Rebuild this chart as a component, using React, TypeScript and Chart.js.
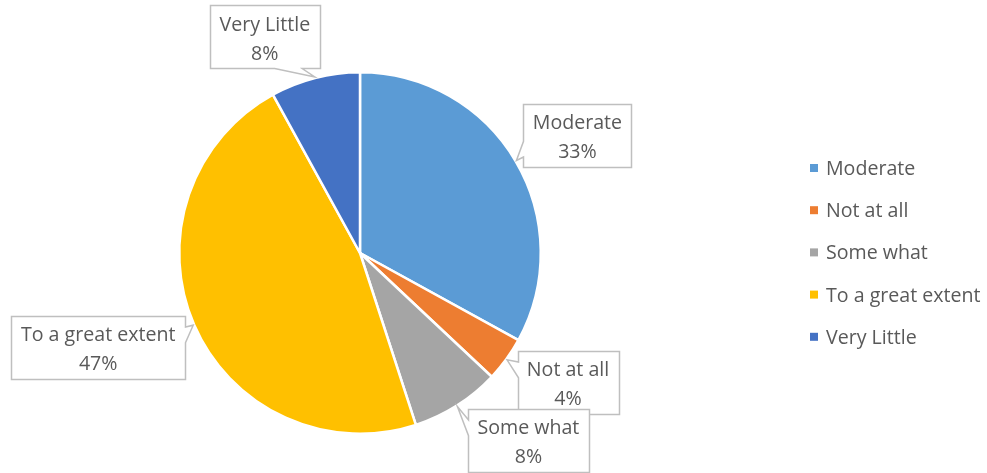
import React, { useEffect, useRef } from "react";
import { Chart, registerables } from "chart.js";

Chart.register(...registerables);

const categories = ["Moderate", "Not at all", "Some what", "To a great extent", "Very Little"];
const values = [33, 4, 8, 47, 8];
const sliceColors = ["#5B9BD5", "#ED7D31", "#A5A5A5", "#FFC000", "#4472C4"];

// callout box centre offsets from the slice's edge tip (layout only)
const calloutOffsets = [
  [61, -25],
  [61, 23],
  [71, 34],
  [-95, 22],
  [-50, -40],
];

const FONT = '19.6px "Open Sans"';
const TEXT_COLOR = "#595959";

const calloutPlugin = {
  id: "callouts",
  afterDraw(chart: any) {
    const ctx = chart.ctx;
    const meta = chart.getDatasetMeta(0);
    const total = values.reduce((a, b) => a + b, 0);
    ctx.save();
    ctx.font = FONT;
    ctx.textAlign = "center";
    ctx.textBaseline = "middle";
    meta.data.forEach((arc: any, i: number) => {
      const mid = (arc.startAngle + arc.endAngle) / 2;
      const r = arc.outerRadius + 1;
      const tx = arc.x + Math.cos(mid) * r;
      const ty = arc.y + Math.sin(mid) * r;
      const line1 = categories[i];
      const line2 = Math.round((values[i] / total) * 100) + "%";
      const tw = Math.max(ctx.measureText(line1).width, ctx.measureText(line2).width);
      const w = Math.round(tw + 19);
      const h = 63;
      const cx = tx + calloutOffsets[i][0];
      const cy = ty + calloutOffsets[i][1];
      const l = Math.round(cx - w / 2) + 0.5;
      const t = Math.round(cy - h / 2) + 0.5;
      const rr = l + w;
      const b = t + h;
      const dx = tx - cx;
      const dy = ty - cy;
      const dq = (dx * h) / w;
      const vertical = Math.abs(dy) > Math.abs(dq);
      const x1 = l + (w * (dx > 0 ? 7 : 2)) / 12;
      const x2 = l + (w * (dx > 0 ? 10 : 5)) / 12;
      const y1 = t + (h * (dy > 0 ? 7 : 2)) / 12;
      const y2 = t + (h * (dy > 0 ? 10 : 5)) / 12;
      ctx.beginPath();
      ctx.moveTo(l, t);
      if (vertical && dy < 0) {
        ctx.lineTo(x1, t);
        ctx.lineTo(tx, ty);
        ctx.lineTo(x2, t);
      }
      ctx.lineTo(rr, t);
      if (!vertical && dx > 0) {
        ctx.lineTo(rr, y1);
        ctx.lineTo(tx, ty);
        ctx.lineTo(rr, y2);
      }
      ctx.lineTo(rr, b);
      if (vertical && dy > 0) {
        ctx.lineTo(x2, b);
        ctx.lineTo(tx, ty);
        ctx.lineTo(x1, b);
      }
      ctx.lineTo(l, b);
      if (!vertical && dx < 0) {
        ctx.lineTo(l, y2);
        ctx.lineTo(tx, ty);
        ctx.lineTo(l, y1);
      }
      ctx.closePath();
      ctx.fillStyle = "#FFFFFF";
      ctx.fill();
      ctx.strokeStyle = "#BFBFBF";
      ctx.lineWidth = 1.5;
      ctx.stroke();
      ctx.fillStyle = TEXT_COLOR;
      ctx.fillText(line1, cx, cy - 12);
      ctx.fillText(line2, cx, cy + 17);
    });

    // legend
    const lx = 810;
    const ly = 168;
    const step = 42.2;
    ctx.textAlign = "left";
    categories.forEach((c, i) => {
      const y = ly + i * step;
      ctx.fillStyle = sliceColors[i];
      ctx.fillRect(lx, y - 4, 8, 8);
      ctx.fillStyle = TEXT_COLOR;
      ctx.fillText(c, lx + 16, y + 1.5);
    });
    ctx.restore();
  },
};

export default function App() {
  const ref = useRef<HTMLCanvasElement | null>(null);
  useEffect(() => {
    if (!ref.current) return;
    const chart = new Chart(ref.current, {
      type: "pie",
      data: {
        labels: categories,
        datasets: [
          {
            data: values,
            backgroundColor: sliceColors,
            borderColor: "#FFFFFF",
            borderWidth: 2.5,
          },
        ],
      },
      options: {
        animation: false,
        responsive: false,
        maintainAspectRatio: false,
        layout: { padding: { left: 178, right: 445, top: 70, bottom: 37 } },
        plugins: {
          legend: { display: false },
          tooltip: { enabled: false },
        },
      },
      plugins: [calloutPlugin],
    });
    return () => chart.destroy();
  }, []);
  return (
    <div style={{ position: "absolute", left: 0, top: 0, width: 987, height: 473, background: "#fff" }}>
      <canvas ref={ref} width={987} height={473} style={{ width: 987, height: 473, display: "block" }} />
    </div>
  );
}
